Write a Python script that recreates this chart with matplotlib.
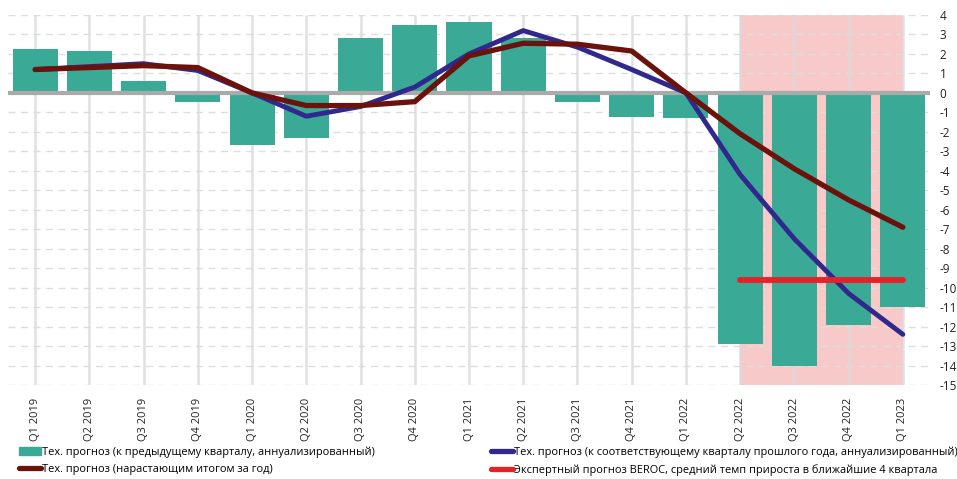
import numpy as np
import matplotlib.pyplot as plt
from matplotlib.patches import Patch
from matplotlib.lines import Line2D

plt.rcParams['font.family'] = ['Open Sans', 'DejaVu Sans']
plt.rcParams['axes.unicode_minus'] = False

quarters = ['Q1 2019', 'Q2 2019', 'Q3 2019', 'Q4 2019',
            'Q1 2020', 'Q2 2020', 'Q3 2020', 'Q4 2020',
            'Q1 2021', 'Q2 2021', 'Q3 2021', 'Q4 2021',
            'Q1 2022', 'Q2 2022', 'Q3 2022', 'Q4 2022', 'Q1 2023']

# к предыдущему кварталу, аннуализированный
qoq = [2.25, 2.15, 0.6, -0.45, -2.7, -2.3, 2.8, 3.5, 3.65, 2.8,
       -0.45, -1.25, -1.3, -12.9, -14.0, -11.9, -11.0]
# к соответствующему кварталу прошлого года
yoy = [1.2, 1.35, 1.5, 1.15, 0.0, -1.2, -0.7, 0.3, 2.0, 3.2,
       2.35, 1.2, 0.0, -4.2, -7.5, -10.3, -12.4]
# нарастающим итогом за год
ytd = [1.2, 1.3, 1.4, 1.3, 0.0, -0.65, -0.65, -0.45, 1.9, 2.55,
       2.5, 2.15, 0.0, -2.1, -3.9, -5.5, -6.9]
# экспертный прогноз BEROC
beroc_quarters = ['Q2 2022', 'Q3 2022', 'Q4 2022', 'Q1 2023']
beroc = [-9.6, -9.6, -9.6, -9.6]

teal = '#3aaa96'
navy = '#30288c'
maroon = '#6b120c'
red = '#e82028'

fig = plt.figure(figsize=(9.57, 4.79), dpi=100)
ax = fig.add_axes([8 / 957, 1 - 385 / 479, 922 / 957, 370 / 479])

x = np.arange(len(quarters))
bx = [quarters.index(q) for q in beroc_quarters]

# прогнозный период
ax.axvspan(bx[0], bx[-1], ymin=0, ymax=1, color='#f8c9c9', zorder=0, lw=0)

for v in range(-15, 5):
    ax.axhline(v, color='#dedede', lw=1, ls=(0, (5, 4)), zorder=0.5)
ax.vlines(x, -15, 4, color='#d9d9d9', lw=1.8, zorder=0.6, alpha=0.8)

ax.bar(x, qoq, width=0.83, color=teal, zorder=2)
ax.axhline(0, color='#aaaaaa', lw=3, zorder=2.5)

ax.plot(x, yoy, color=navy, lw=3.5, solid_capstyle='round', solid_joinstyle='round', zorder=3)
ax.plot(x, ytd, color=maroon, lw=3.8, solid_capstyle='round', solid_joinstyle='round', zorder=4)
ax.plot(bx, beroc, color=red, lw=4.2, solid_capstyle='round', zorder=5)

ax.set_xlim(-0.5, len(quarters) - 0.5)
ax.set_ylim(-15, 4)
ax.set_yticks(range(-15, 5))
ax.yaxis.tick_right()
ax.set_xticks(x)
ax.set_xticklabels(quarters, rotation=90)
ax.tick_params(axis='both', length=0, colors='#222222')
ax.tick_params(axis='y', pad=7, labelsize=8.5)
ax.tick_params(axis='x', pad=9.5, labelsize=8)
for s in ax.spines.values():
    s.set_visible(False)

leg_kw = dict(frameon=False, fontsize=7.9, handlelength=2.0, handletextpad=0.1,
              labelspacing=0.6, borderaxespad=0, borderpad=0)
leg1 = fig.legend(handles=[Patch(color=teal, label='Тех. прогноз (к предыдущему кварталу, аннуализированный)'),
                           Line2D([], [], color=maroon, lw=3.8, solid_capstyle='round',
                                  label='Тех. прогноз (нарастающим итогом за год)')],
                  loc='upper left', bbox_to_anchor=(19 / 957, 1 - 446 / 479), **leg_kw)
leg2 = fig.legend(handles=[Line2D([], [], color=navy, lw=3.8, solid_capstyle='round',
                                  label='Тех. прогноз (к соответствующему кварталу прошлого года, аннуализированный)'),
                           Line2D([], [], color=red, lw=3.8, solid_capstyle='round',
                                  label='Экспертный прогноз BEROC, средний темп прироста в ближайшие 4 квартала')],
                  loc='upper left', bbox_to_anchor=(491 / 957, 1 - 446 / 479), **leg_kw)

fig.savefig('out.png', dpi=100)
